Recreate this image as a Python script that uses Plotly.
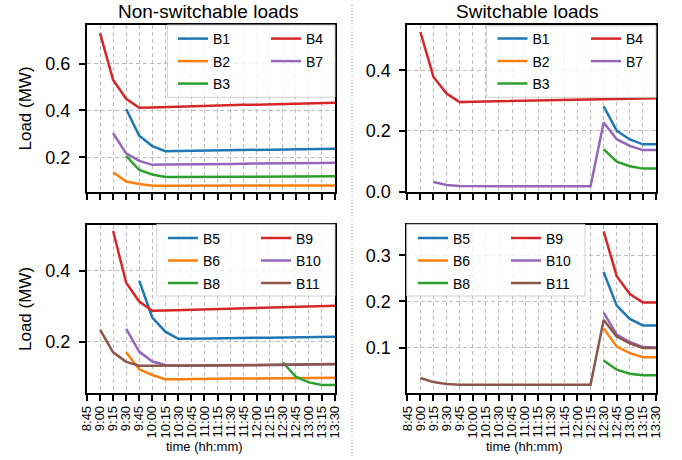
import plotly.graph_objects as go

FONT = "Liberation Sans, Arial, sans-serif"

times = ["8:45", "9:00", "9:15", "9:30", "9:45", "10:00", "10:15", "10:30", "10:45", "11:00",
         "11:15", "11:30", "11:45", "12:00", "12:15", "12:30", "12:45", "13:00", "13:15", "13:30"]
N = None

# Non-switchable loads, top panel
ns_B1 = [N, N, N, 0.406, 0.292, 0.248, 0.226, 0.227, 0.228, 0.229, 0.229, 0.230, 0.231, 0.232, 0.232, 0.233, 0.234, 0.235, 0.236, 0.237]
ns_B2 = [N, N, 0.136, 0.097, 0.086, 0.079, 0.079, 0.079, 0.079, 0.080, 0.080, 0.080, 0.080, 0.080, 0.080, 0.080, 0.080, 0.080, 0.080, 0.080]
ns_B3 = [N, N, N, 0.206, 0.146, 0.127, 0.116, 0.116, 0.116, 0.117, 0.117, 0.117, 0.117, 0.118, 0.118, 0.118, 0.118, 0.119, 0.119, 0.119]
ns_B4 = [N, 0.730, 0.530, 0.450, 0.412, 0.413, 0.415, 0.416, 0.418, 0.419, 0.421, 0.422, 0.424, 0.425, 0.426, 0.428, 0.429, 0.430, 0.432, 0.433]
ns_B7 = [N, N, 0.303, 0.217, 0.185, 0.168, 0.169, 0.169, 0.170, 0.171, 0.171, 0.172, 0.173, 0.173, 0.174, 0.175, 0.175, 0.176, 0.176, 0.177]

# Switchable loads, top panel
sw_B1 = [N] * 15 + [0.281, 0.201, 0.172, 0.156, 0.156]
sw_B2 = [N] * 20
sw_B3 = [N] * 15 + [0.140, 0.099, 0.084, 0.076, 0.076]
sw_B4 = [N, 0.526, 0.378, 0.323, 0.295, 0.296, 0.297, 0.298, 0.299, 0.300, 0.300, 0.301, 0.302, 0.303, 0.304, 0.305, 0.305, 0.306, 0.307, 0.308]
sw_B7 = [N, N, 0.032, 0.022, 0.019, 0.018, 0.018, 0.018, 0.018, 0.018, 0.018, 0.018, 0.018, 0.018, 0.018, 0.228, 0.173, 0.151, 0.137, 0.137]

# Non-switchable loads, bottom panel
ns_B5 = [N, N, N, N, 0.372, 0.268, 0.228, 0.208, 0.208, 0.209, 0.209, 0.210, 0.210, 0.211, 0.211, 0.212, 0.212, 0.213, 0.213, 0.214]
ns_B6 = [N, N, N, 0.170, 0.122, 0.106, 0.094, 0.094, 0.095, 0.095, 0.095, 0.096, 0.096, 0.096, 0.096, 0.097, 0.097, 0.097, 0.097, 0.098]
ns_B8 = [N] * 15 + [0.142, 0.101, 0.085, 0.078, 0.078]
ns_B9 = [N, N, 0.512, 0.366, 0.313, 0.287, 0.288, 0.289, 0.290, 0.291, 0.292, 0.293, 0.294, 0.295, 0.296, 0.297, 0.298, 0.299, 0.300, 0.301]
ns_B10 = [N, N, N, 0.236, 0.172, 0.144, 0.134, 0.132, 0.132, 0.132, 0.133, 0.133, 0.133, 0.134, 0.134, 0.134, 0.135, 0.135, 0.136, 0.136]
ns_B11 = [N, 0.234, 0.170, 0.143, 0.132, 0.132, 0.132, 0.132, 0.133, 0.133, 0.133, 0.134, 0.134, 0.134, 0.135, 0.135, 0.136, 0.136, 0.137, 0.137]

# Switchable loads, bottom panel
sw_B5 = [N] * 15 + [0.264, 0.191, 0.162, 0.148, 0.148]
sw_B6 = [N] * 15 + [0.142, 0.102, 0.088, 0.079, 0.079]
sw_B8 = [N] * 15 + [0.072, 0.052, 0.043, 0.040, 0.040]
sw_B9 = [N] * 15 + [0.352, 0.255, 0.216, 0.198, 0.198]
sw_B10 = [N] * 15 + [0.176, 0.128, 0.112, 0.101, 0.100]
sw_B11 = [N, 0.034, 0.025, 0.021, 0.019, 0.019, 0.019, 0.019, 0.019, 0.019, 0.019, 0.019, 0.019, 0.019, 0.019, 0.160, 0.124, 0.109, 0.099, 0.099]

C = {"blue": "#1f77b4", "orange": "#ff7f0e", "green": "#2ca02c", "red": "#d62728",
     "purple": "#9467bd", "brown": "#8c564b"}

W, H = 682, 460

def px_x(p):
    return p / W

def px_y(p):
    return 1 - p / H

fig = go.Figure()

panels = [
    ("x", "y", [("B1", ns_B1, "blue", 0), ("B2", ns_B2, "orange", 0), ("B3", ns_B3, "green", 0),
                ("B4", ns_B4, "red", 1), ("B7", ns_B7, "purple", 1)], ("legend", "legend2")),
    ("x2", "y2", [("B1", sw_B1, "blue", 0), ("B2", sw_B2, "orange", 0), ("B3", sw_B3, "green", 0),
                  ("B4", sw_B4, "red", 1), ("B7", sw_B7, "purple", 1)], ("legend3", "legend4")),
    ("x3", "y3", [("B5", ns_B5, "blue", 0), ("B6", ns_B6, "orange", 0), ("B8", ns_B8, "green", 0),
                  ("B9", ns_B9, "red", 1), ("B10", ns_B10, "purple", 1), ("B11", ns_B11, "brown", 1)], ("legend5", "legend6")),
    ("x4", "y4", [("B5", sw_B5, "blue", 0), ("B6", sw_B6, "orange", 0), ("B8", sw_B8, "green", 0),
                  ("B9", sw_B9, "red", 1), ("B10", sw_B10, "purple", 1), ("B11", sw_B11, "brown", 1)], ("legend7", "legend8")),
]

for pi, (xa, ya, series, legs) in enumerate(panels):
    for name, vals, col, li in series:
        fig.add_trace(go.Scatter(
            x=times, y=vals, name=name, mode="lines",
            line=dict(color=C[col], width=2.5),
            xaxis=xa, yaxis=ya, legend=legs[li],
            legendgroup=f"p{pi}{name}", connectgaps=False,
        ))

xdom_l = [px_x(87), px_x(335)]
xdom_r = [px_x(407.3), px_x(656)]
ydom_t = [px_y(192), px_y(25)]
ydom_b = [px_y(392.7), px_y(225)]

grid = dict(showgrid=True, gridcolor="#bdbdbd", gridwidth=1, griddash="4px,3px")
common_x = dict(type="category", categoryorder="array", categoryarray=times, range=[0, 19],
                tickmode="array", tickvals=times, ticktext=times,
                ticks="outside", ticklen=6, tickwidth=1.5, tickcolor="black",
                showline=True, linecolor="black", linewidth=2, mirror=True,
                zeroline=False, automargin=False,
                tickangle=-90, tickfont=dict(size=13, color="black", family=FONT), **grid)
common_y = dict(ticks="outside", ticklen=6, tickwidth=1.5, tickcolor="black",
                showline=True, linecolor="black", linewidth=2, mirror=True,
                zeroline=False, automargin=False, ticklabelstandoff=5,
                tickfont=dict(size=18, color="black", family=FONT), **grid)

fig.update_layout(
    xaxis=dict(domain=xdom_l, anchor="y", showticklabels=False, **common_x),
    xaxis2=dict(domain=xdom_r, anchor="y2", showticklabels=False, **common_x),
    xaxis3=dict(domain=xdom_l, anchor="y3", **common_x),
    xaxis4=dict(domain=xdom_r, anchor="y4", **common_x),
    yaxis=dict(domain=ydom_t, anchor="x", range=[0.052, 0.765], tickvals=[0.2, 0.4, 0.6], ticktext=["0.2", "0.4", "0.6"], **common_y),
    yaxis2=dict(domain=ydom_t, anchor="x2", range=[-0.001, 0.549], tickvals=[0.0, 0.2, 0.4], ticktext=["0.0", "0.2", "0.4"], **common_y),
    yaxis3=dict(domain=ydom_b, anchor="x3", range=[0.056, 0.529], tickvals=[0.2, 0.4], ticktext=["0.2", "0.4"], **common_y),
    yaxis4=dict(domain=ydom_b, anchor="x4", range=[0.002, 0.366], tickvals=[0.1, 0.2, 0.3], ticktext=["0.1", "0.2", "0.3"], **common_y),
)

leg_pos = {
    "legend": (173, 23), "legend2": (266, 23),
    "legend3": (492.5, 23), "legend4": (586, 23),
    "legend5": (163, 222.5), "legend6": (256, 222.5),
    "legend7": (413, 222.5), "legend8": (506, 222.5),
}
for lid, (lx, ly) in leg_pos.items():
    fig.update_layout({lid: dict(x=px_x(lx), y=px_y(ly), xanchor="left", yanchor="top",
                                 xref="paper", yref="paper",
                                 bgcolor="rgba(0,0,0,0)", borderwidth=0,
                                 orientation="v", traceorder="grouped", tracegroupgap=1.3,
                                 itemwidth=30,
                                 font=dict(size=14, color="black", family=FONT))})

boxes = [(167.3, 25, 335, 97.3), (486.7, 25.7, 656, 97.3), (156.7, 224.3, 335, 296), (406.7, 224.3, 585, 296)]
shapes = []
for x0, y0, x1, y1 in boxes:
    shapes.append(dict(type="rect", xref="paper", yref="paper",
                       x0=px_x(x0), x1=px_x(x1), y0=px_y(y1), y1=px_y(y0),
                       fillcolor="rgba(255,255,255,0.8)", line=dict(color="rgba(204,204,204,0.9)", width=1),
                       layer="above"))
shapes.append(dict(type="line", xref="paper", yref="paper", x0=px_x(352), x1=px_x(352), y0=px_y(456), y1=px_y(4),
                   line=dict(color="#999999", width=1, dash="1px,2px"), layer="above"))

annotations = [
    dict(text="Non-switchable loads", x=px_x(208), y=px_y(12), xref="paper", yref="paper",
         showarrow=False, xanchor="center", yanchor="middle", font=dict(size=19, color="black", family=FONT)),
    dict(text="Switchable loads", x=px_x(527), y=px_y(12), xref="paper", yref="paper",
         showarrow=False, xanchor="center", yanchor="middle", font=dict(size=19, color="black", family=FONT)),
    dict(text="Load (MW)", x=px_x(25), y=px_y(108.5), xref="paper", yref="paper", textangle=-90,
         showarrow=False, xanchor="center", yanchor="middle", font=dict(size=17, color="black", family=FONT)),
    dict(text="Load (MW)", x=px_x(25), y=px_y(309), xref="paper", yref="paper", textangle=-90,
         showarrow=False, xanchor="center", yanchor="middle", font=dict(size=17, color="black", family=FONT)),
    dict(text="time (hh:mm)", x=px_x(204), y=px_y(446), xref="paper", yref="paper",
         showarrow=False, xanchor="center", yanchor="middle", font=dict(size=13, color="black", family=FONT)),
    dict(text="time (hh:mm)", x=px_x(524), y=px_y(446), xref="paper", yref="paper",
         showarrow=False, xanchor="center", yanchor="middle", font=dict(size=13, color="black", family=FONT)),
]

fig.update_layout(
    width=W, height=H, margin=dict(l=0, r=0, t=0, b=0),
    paper_bgcolor="white", plot_bgcolor="white",
    shapes=shapes, annotations=annotations,
    font=dict(family=FONT, color="black"),
    showlegend=True,
)

fig.write_html("out.html", config={"displayModeBar": False},
               post_script="document.body.style.margin='0px';document.body.style.overflow='hidden';")
